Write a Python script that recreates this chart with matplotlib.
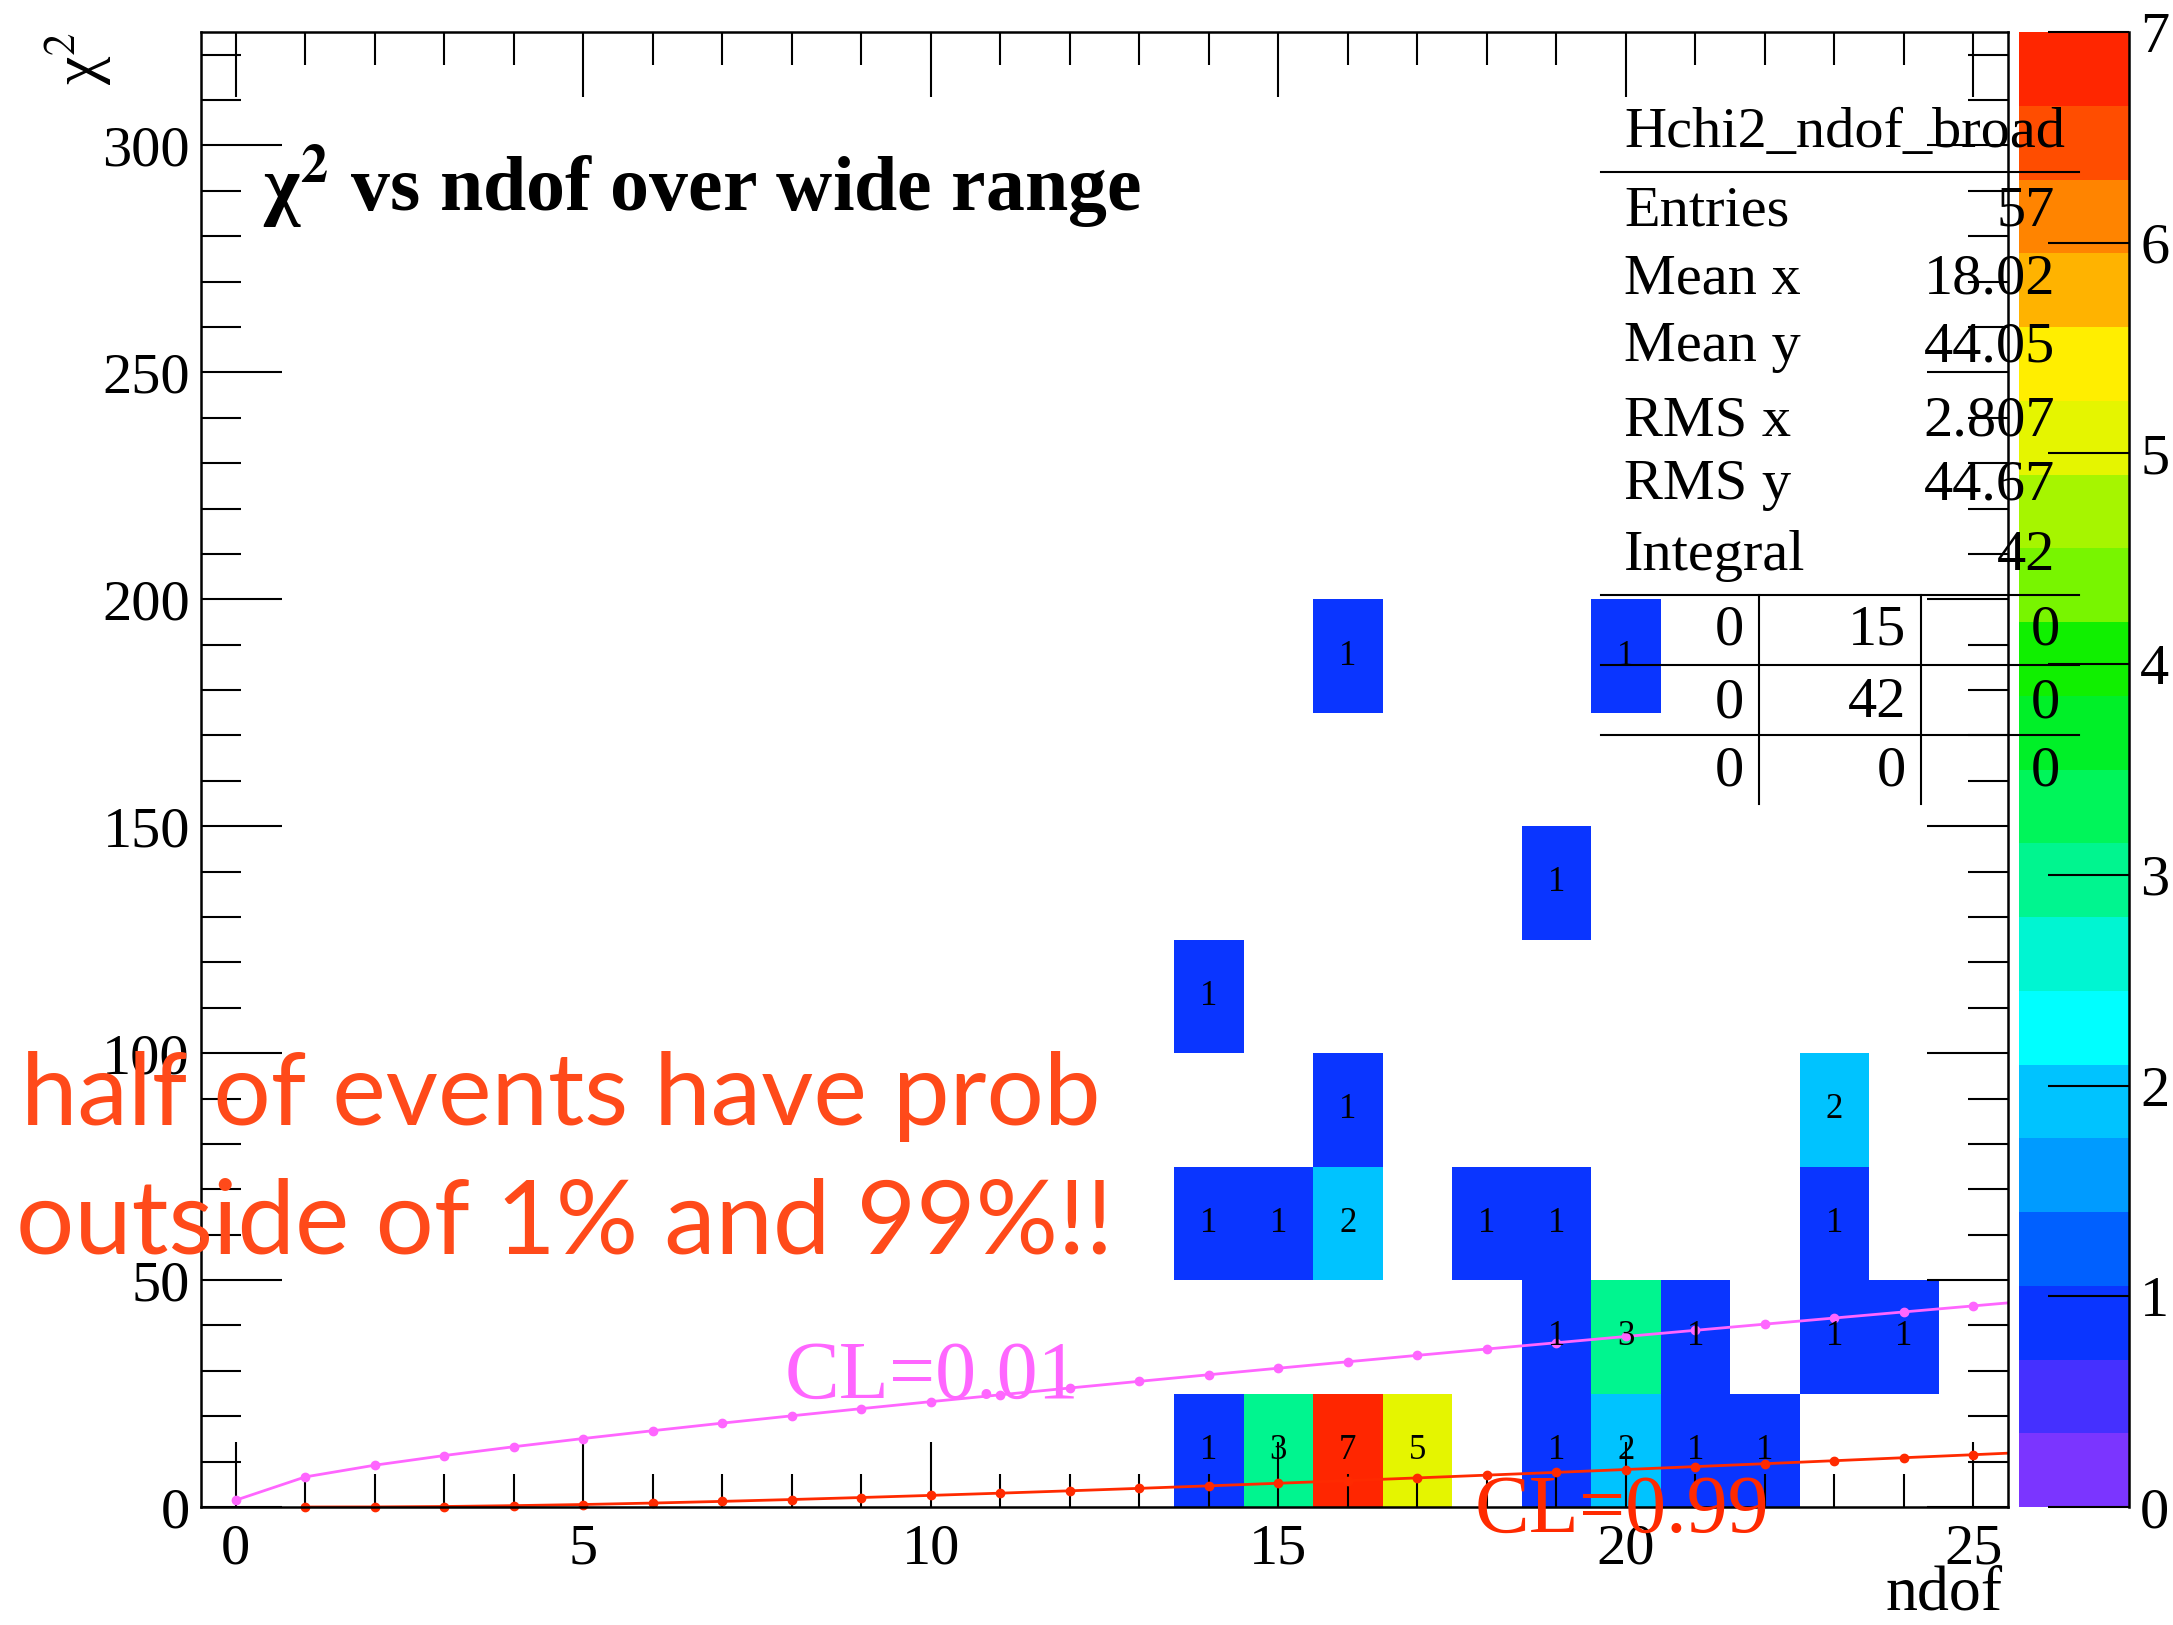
import numpy as np
import matplotlib
matplotlib.use("Agg")
import matplotlib.pyplot as plt
from matplotlib.colors import ListedColormap, BoundaryNorm
from matplotlib.lines import Line2D

plt.rcParams['font.family'] = ['Liberation Serif', 'DejaVu Serif']
plt.rcParams['mathtext.fontset'] = 'stix'

# 2D histogram contents (bin centres and counts)
cell_x = [14, 15, 16, 17, 19, 20, 21, 22,
          19, 20, 21, 23, 24,
          14, 15, 16, 18, 19, 23,
          16, 23,
          14,
          19,
          16, 20]
cell_y = [12.5] * 8 + [37.5] * 5 + [62.5] * 6 + [87.5] * 2 + [112.5] + [137.5] + [187.5] * 2
cell_n = [1, 3, 7, 5, 1, 2, 1, 1,
          1, 3, 1, 1, 1,
          1, 1, 2, 1, 1, 1,
          1, 2,
          1,
          1,
          1, 1]

# chi2 values at CL=0.01 and CL=0.99 per ndof
ndof_hi = list(range(0, 27))
chi2_hi = [1.5, 6.63, 9.21, 11.34, 13.28, 15.09, 16.81, 18.48, 20.09, 21.67,
           23.21, 24.72, 26.22, 27.69, 29.14, 30.58, 32.00, 33.41, 34.81, 36.19,
           37.57, 38.93, 40.29, 41.64, 42.98, 44.31, 45.64]
ndof_lo = list(range(1, 27))
chi2_lo = [0.00, 0.02, 0.11, 0.30, 0.55, 0.87, 1.24, 1.65, 2.09, 2.56,
           3.05, 3.57, 4.11, 4.66, 5.23, 5.81, 6.41, 7.02, 7.63, 8.26,
           8.90, 9.54, 10.20, 10.86, 11.52, 12.20]

# stats box
stat_names = ['Entries', 'Mean x', 'Mean y', 'RMS x', 'RMS y', 'Integral']
stat_vals = ['57', '18.02', '44.05', '2.807', '44.67', '42']
ovf_table = [['0', '15', '0'], ['0', '42', '0'], ['0', '0', '0']]

zticks = [0, 1, 2, 3, 4, 5, 6, 7]
palette = ['#7B35FF', '#4530FF', '#0A35FF', '#0060FF', '#009BFF', '#00C3FF',
           '#00FFFF', '#00F5D2', '#00F58F', '#00F55A', '#00F028', '#10F000',
           '#78F500', '#A6F500', '#E5F500', '#FFEE00', '#FFB300', '#FF8400',
           '#FF4D00', '#FF2600']

W, H = 2173, 1625
def fx(p):
    return p / W
def fy(p):
    return 1 - p / H

fig = plt.figure(figsize=(W / 100, H / 100), dpi=100)
L, R, T, B = 201, 2008, 32, 1507
ax = fig.add_axes([fx(L), fy(B), fx(R - L), (B - T) / H])
cax = fig.add_axes([fx(2019), fy(B), fx(110), (B - T) / H])

x_edges = np.arange(-0.5, 26.0, 1.0)
y_edges = np.arange(0, 326, 25)
hist, _, _ = np.histogram2d(cell_x, cell_y, bins=[x_edges, y_edges], weights=cell_n)
hist = np.ma.masked_equal(hist.T, 0)

levels = np.linspace(0, 7, 21)
cmap = ListedColormap(palette)
cmap.set_over(palette[-1])
norm = BoundaryNorm(levels, cmap.N)
ax.pcolormesh(x_edges, y_edges, hist, cmap=cmap, norm=norm)

for x, y, n in zip(cell_x, cell_y, cell_n):
    ax.text(x, y, str(n), ha='center', va='center', fontsize=25)

# confidence level curves
ax.plot(ndof_hi, chi2_hi, color='#FF66FF', lw=2)
ax.plot(ndof_hi[:26], chi2_hi[:26], 'o', color='#FF66FF', ms=6, clip_on=False)
ax.plot(ndof_lo, chi2_lo, color='#FF2A00', lw=2)
ax.plot(ndof_lo[:25], chi2_lo[:25], 'o', color='#FF2A00', ms=6, clip_on=False)
ax.text(7.9, 24, 'CL=0.01', color='#FF66FF', fontsize=59, va='baseline', clip_on=False)
ax.text(17.83, -5.5, 'CL=0.99', color='#FF2A00', fontsize=59, va='baseline',
        clip_on=False, zorder=5)

ax.set_xlim(-0.5, 25.5)
ax.set_ylim(0, 325)
ax.set_xticks(range(0, 26, 5))
ax.set_xticks(range(0, 26), minor=True)
ax.set_yticks(range(0, 301, 50))
ax.set_yticks(range(0, 321, 10), minor=True)
ax.tick_params(axis='both', which='both', direction='in', top=True, right=True,
               labelsize=42, width=1.5)
ax.tick_params(axis='x', which='major', length=47, pad=12)
ax.tick_params(axis='x', which='minor', length=24)
ax.tick_params(axis='y', which='major', length=58, pad=8)
ax.tick_params(axis='y', which='minor', length=29)
for s in ax.spines.values():
    s.set_linewidth(1.8)

# palette axis
cax.pcolormesh([0, 1], levels, (levels[:-1] + 0.175).reshape(-1, 1), cmap=cmap, norm=norm)
cax.set_xlim(0, 1)
cax.set_ylim(0, 7)
cax.set_xticks([])
cax.yaxis.tick_right()
cax.set_yticks(zticks)
cax.tick_params(axis='y', direction='in', length=58, width=1.5, pad=8, labelsize=42)
for k in ['left', 'top', 'bottom']:
    cax.spines[k].set_visible(False)
cax.spines['right'].set_linewidth(1.8)

# titles
fig.text(fx(263), fy(211), 'χ$^{\\mathbf{2}}$ vs ndof over wide range',
         fontsize=56, fontweight='bold', va='baseline', ha='left')
fig.text(fx(78), fy(59), 'χ$^2$', fontsize=46, rotation=90, ha='center', va='center')
fig.text(fx(2003), fy(1594), 'ndof', fontsize=46, ha='right', va='center')

# stats box
fig.text(fx(1624), fy(133), 'Hchi2_ndof_broad', fontsize=42, va='center')
row_y = [211, 280, 347, 421, 485, 556]
for name, val, yy in zip(stat_names, stat_vals, row_y):
    fig.text(fx(1624), fy(yy), name, fontsize=42, va='center')
    fig.text(fx(2055), fy(yy), val, fontsize=42, va='center', ha='right')
col_x = [1744, 1906, 2060]
for row, yy in zip(ovf_table, [631, 703, 772]):
    for v, xx in zip(row, col_x):
        fig.text(fx(xx), fy(yy), v, fontsize=42, va='center', ha='right')
for yy in [172, 595, 665, 735]:
    fig.add_artist(Line2D([fx(1601), fx(2079)], [fy(yy), fy(yy)], color='black', lw=1.5))
for xx in [1759, 1921]:
    fig.add_artist(Line2D([fx(xx), fx(xx)], [fy(595), fy(804)], color='black', lw=1.5))

# annotation
fig.text(fx(21), fy(1125), 'half of events have prob', fontsize=73, color='#FF4A1A',
         family=['Lato', 'DejaVu Sans'], va='baseline')
fig.text(fx(16), fy(1254), 'outside of 1% and 99%!!', fontsize=74, color='#FF4A1A',
         family=['Lato', 'DejaVu Sans'], va='baseline')

fig.savefig('out.png', dpi=100)
